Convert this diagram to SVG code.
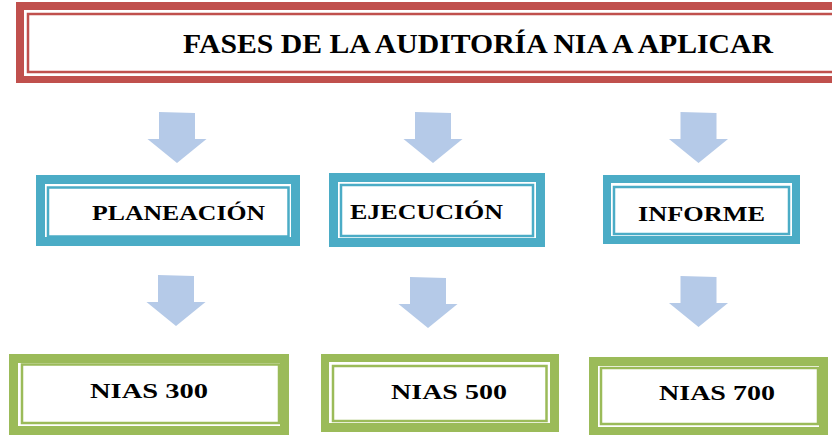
<svg xmlns="http://www.w3.org/2000/svg" width="832" height="435" viewBox="0 0 832 435">
<defs>
<style>
.lbl{font-family:'Liberation Serif','Times New Roman',serif;font-weight:bold;fill:#000;}
.red{fill:#C0504D;}
.redl{fill:none;stroke:#C0504D;stroke-width:2.5;}
.blue{fill:#4BACC6;}
.bluel{fill:none;stroke:#4BACC6;stroke-width:2.5;}
.green{fill:#9BBB59;}
.greenl{fill:none;stroke:#9BBB59;stroke-width:2.5;}
.white{fill:#fff;}
.arrow{fill:#B5CAE8;}
</style>
<polygon id="arr" points="-18,0 18,1 18,27 29.5,27 0,51 -29.5,27 -18,27"/>
</defs>
<rect width="832" height="435" fill="#fff"/>

<g id="title">
<rect class="red" x="16" y="2" width="900" height="81"/>
<rect class="white" x="24" y="10" width="900" height="66"/>
<rect class="redl" x="28" y="14" width="900" height="58"/>
<text class="lbl" x="183" y="53" font-size="28" textLength="590" lengthAdjust="spacingAndGlyphs">FASES DE LA AUDITORÍA NIA A APLICAR</text>
</g>

<g id="connectors">
<use href="#arr" class="arrow" x="177" y="112"/>
<use href="#arr" class="arrow" x="433" y="112"/>
<use href="#arr" class="arrow" x="698.5" y="112"/>
<use href="#arr" class="arrow" x="176" y="275"/>
<use href="#arr" class="arrow" x="428" y="277"/>
<use href="#arr" class="arrow" x="698.5" y="276"/>
</g>

<g id="planeacion">
<rect class="blue" x="36" y="175" width="264" height="71"/>
<rect class="white" x="45" y="184" width="246" height="53"/>
<rect class="bluel" x="48" y="187.5" width="240.5" height="49"/>
<text class="lbl" x="92" y="220" font-size="22" textLength="173" lengthAdjust="spacingAndGlyphs">PLANEACIÓN</text>
</g>

<g id="ejecucion">
<rect class="blue" x="329" y="173" width="216" height="74"/>
<rect class="white" x="338" y="182" width="198" height="56"/>
<rect class="bluel" x="341" y="185" width="192" height="51"/>
<text class="lbl" x="350" y="219" font-size="22" textLength="153" lengthAdjust="spacingAndGlyphs">EJECUCIÓN</text>
</g>

<g id="informe">
<rect class="blue" x="603" y="175" width="197" height="69"/>
<rect class="white" x="611" y="183" width="181" height="53"/>
<rect class="bluel" x="614" y="187" width="175" height="47"/>
<text class="lbl" x="638" y="220.5" font-size="22" textLength="127" lengthAdjust="spacingAndGlyphs">INFORME</text>
</g>

<g id="nias300">
<rect class="green" x="9" y="354" width="280" height="81"/>
<rect class="white" x="18" y="363" width="262" height="63"/>
<rect class="greenl" x="22" y="364.5" width="257" height="58.5"/>
<text class="lbl" x="90" y="398" font-size="22" textLength="118" lengthAdjust="spacingAndGlyphs">NIAS 300</text>
</g>

<g id="nias500">
<rect class="green" x="321" y="354" width="238" height="78"/>
<rect class="white" x="329" y="362" width="221" height="61"/>
<rect class="greenl" x="333" y="366" width="213.5" height="55"/>
<text class="lbl" x="391" y="399" font-size="22" textLength="116" lengthAdjust="spacingAndGlyphs">NIAS 500</text>
</g>

<g id="nias700">
<rect class="green" x="589" y="357" width="239" height="78"/>
<rect class="white" x="598" y="366" width="221" height="61"/>
<rect class="greenl" x="601" y="368" width="217" height="56"/>
<text class="lbl" x="659" y="400" font-size="22" textLength="116" lengthAdjust="spacingAndGlyphs">NIAS 700</text>
</g>
</svg>
